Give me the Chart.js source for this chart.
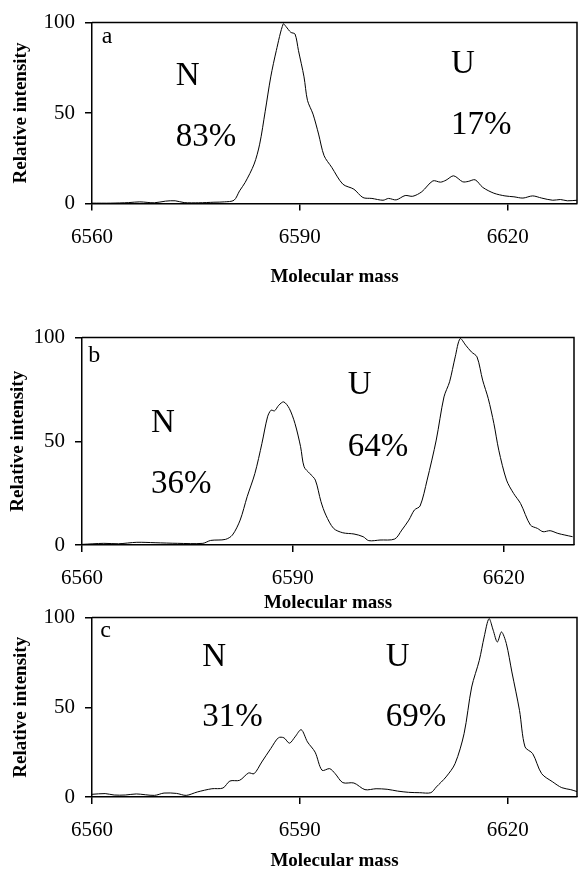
<!DOCTYPE html>
<html>
<head>
<meta charset="utf-8">
<script src="https://cdn.jsdelivr.net/npm/chart.js@4/dist/chart.umd.min.js"></script>
<style>
  html, body { margin: 0; padding: 0; background: #fff; }
  body { width: 578px; height: 872px; position: relative; overflow: hidden; }
  canvas { position: absolute; left: 0; }
</style>
</head>
<body>
<canvas id="chart-a" width="578" height="292" style="top:0px"></canvas>
<canvas id="chart-b" width="578" height="300" style="top:315px"></canvas>
<canvas id="chart-c" width="578" height="277" style="top:595px"></canvas>
<script>
// tick labels
var massTicks = [6560, 6590, 6620];
var intensityTicks = [0, 50, 100];

// panel a
var massA = [6560, 6562.7, 6565.3, 6566.9, 6569, 6570.6, 6572, 6573.3, 6575.4, 6577.6, 6579.1, 6580.5,
  6581.3, 6582.1, 6583.4, 6584.2, 6585, 6585.8, 6586.6, 6587.6, 6588, 6588.7, 6589.3, 6589.8, 6590.6,
  6591.1, 6591.9, 6592.7, 6593.5, 6594.6, 6596.2, 6597.8, 6599.1, 6600.4, 6602, 6602.8, 6603.9, 6605.2,
  6606.3, 6607.6, 6609.2, 6610.3, 6611.1, 6612.2, 6613.5, 6614.3, 6615.3, 6616.4, 6618, 6619.6, 6620.9,
  6622.2, 6623.6, 6624.9, 6626.5, 6627.6, 6628.6, 6630];
var intensityA = [0.2, 0.2, 0.5, 0.9, 0.4, 1.3, 1.5, 0.5, 0.4, 0.7, 0.9, 1.8,
  7, 11.6, 21.8, 32.8, 51, 70, 84.5, 99.3, 97.8, 94.6, 93.7, 84.5, 70,
  57, 49.4, 38.4, 26.4, 20, 10.7, 7.9, 3.3, 2.8, 1.8, 2.8, 2, 4.4,
  4, 6.5, 12.5, 11.8, 12.9, 15.3, 12, 12.2, 13.1, 8.9, 5.7, 4.2, 3.7,
  3, 4.2, 3, 1.8, 2.2, 1.5, 1.8];

// panel b
var massB = [6560, 6563.1, 6565.2, 6567.8, 6570.4, 6573.6, 6577.2, 6578.3, 6580.4, 6581.4, 6582.5, 6583.5,
  6584.6, 6585.6, 6586.4, 6586.9, 6587.4, 6588, 6588.7, 6589.5, 6590.3, 6591.1, 6591.6, 6592.4, 6593.2,
  6594, 6594.7, 6595.8, 6597.1, 6598.7, 6600, 6600.8, 6602.4, 6604.5, 6605.5, 6606.5, 6607.3, 6608.1,
  6609.1, 6610.4, 6611.5, 6612.3, 6613.1, 6613.8, 6614.6, 6615.4, 6616.2, 6617, 6617.8, 6618.6, 6619.3,
  6620.4, 6621.4, 6622.4, 6623.8, 6624.8, 6625.6, 6626.6, 6627.7, 6628.7, 6629.8];
var intensityB = [0.3, 0.8, 0.6, 1.3, 1.1, 0.8, 0.8, 2.2, 2.7, 4.8, 12, 23.3,
  34.5, 49, 61.8, 65, 64.7, 67.4, 69, 65.8, 58.6, 47.4, 37.7, 34.5, 31.3,
  20.9, 14.4, 8, 5.9, 5.3, 4, 2.1, 2.4, 2.9, 7.2, 12, 16.9, 18.8,
  31.3, 50.6, 71.4, 78.7, 90.7, 99.5, 96.3, 93.1, 90.7, 79.5, 70.6, 58.6, 45.7,
  31.3, 24.9, 20, 9.6, 8, 6.4, 6.9, 5.6, 4.8, 4];

// panel c
var massC = [6560, 6561.9, 6563.2, 6564.8, 6566.4, 6569, 6570.4, 6572.2, 6573.6, 6575.2, 6577.3, 6578.9,
  6579.9, 6581.3, 6582.6, 6583.4, 6584.5, 6585.8, 6586.9, 6587.7, 6588.5, 6589.3, 6590.2, 6591.1, 6592.2,
  6593.2, 6594.3, 6595.1, 6596.2, 6597.8, 6599.4, 6601, 6602.6, 6604.1, 6605.7, 6607.3, 6608.9, 6609.7,
  6611.1, 6612.4, 6613.7, 6614.8, 6615.9, 6616.6, 6617.3, 6617.9, 6618.5, 6619.1, 6619.8, 6620.6, 6621.7,
  6622.5, 6623.6, 6624.9, 6626.5, 6627.8, 6629.1, 6630];
var intensityC = [1.5, 1.9, 1.1, 1.1, 1.7, 0.9, 2.2, 2, 0.9, 2.8, 4.6, 5,
  8.9, 9.3, 13.4, 13, 19.5, 27, 33, 33, 30, 33.5, 37.5, 30.7, 25,
  14.9, 15.8, 13, 8, 7.8, 4.1, 4.6, 4.3, 3.3, 2.6, 2.4, 2.4, 5.6,
  11.2, 18.6, 35.3, 61.3, 76.2, 89.2, 99.4, 93, 86.4, 92, 85.5, 69.7, 48.3,
  27.9, 24.2, 13, 8.4, 5.2, 4.1, 3];

var panelLetters = ['a', 'b', 'c'];
var formLabels = ['N', 'U'];
var shareA = ['83%', '17%'];
var shareB = ['36%', '64%'];
var shareC = ['31%', '69%'];

var serif = '"Liberation Serif", "Times New Roman", serif';

// text drawn inside the plot, placed with the chart's own scales
var textLabels = {
  id: 'textLabels',
  afterDatasetsDraw: function(chart, args, opts) {
    var ctx = chart.ctx;
    var xs = chart.scales.x, ys = chart.scales.y;
    ctx.save();
    ctx.fillStyle = '#000';
    ctx.textBaseline = 'middle';
    ctx.textAlign = 'left';
    opts.items.forEach(function(it) {
      ctx.font = it.size + 'px ' + serif;
      ctx.fillText(it.text, xs.getPixelForValue(it.x), ys.getPixelForValue(it.y));
    });
    ctx.restore();
  }
};

// closes the plot box on top and right
var frame = {
  id: 'frame',
  afterDraw: function(chart) {
    var a = chart.chartArea, ctx = chart.ctx;
    ctx.save();
    ctx.strokeStyle = '#000';
    ctx.lineWidth = 1.5;
    ctx.beginPath();
    ctx.moveTo(a.left, a.top);
    ctx.lineTo(a.right, a.top);
    ctx.lineTo(a.right, a.bottom);
    ctx.stroke();
    ctx.restore();
  }
};

function plainNumber(v) { return String(v); }

function makePanel(id, mass, intensity, p, items) {
  var points = mass.map(function(m, i) { return {x: m, y: intensity[i]}; });
  return new Chart(document.getElementById(id), {
    type: 'line',
    data: {
      datasets: [{
        data: points,
        borderColor: '#000',
        borderWidth: 1,
        pointRadius: 0,
        tension: 0.3,
        fill: false
      }]
    },
    options: {
      responsive: false,
      animation: false,
      devicePixelRatio: 1,
      layout: { padding: { left: 0, right: p.right, top: p.top, bottom: 0 } },
      plugins: {
        legend: { display: false },
        tooltip: { enabled: false },
        textLabels: { items: items }
      },
      scales: {
        x: {
          type: 'linear',
          min: 6560,
          max: 6630,
          afterBuildTicks: function(s) { s.ticks = massTicks.map(function(v) { return {value: v}; }); },
          afterFit: function(s) { s.height = p.xHeight; },
          grid: { drawOnChartArea: false, drawTicks: true, tickLength: 7, color: '#000', lineWidth: 1.5 },
          border: { display: true, color: '#000', width: 1.5 },
          ticks: { color: '#000', font: { family: serif, size: 21 }, padding: 14, maxRotation: 0, callback: plainNumber },
          title: {
            display: true,
            text: 'Molecular mass',
            color: '#000',
            font: { family: serif, size: 19, weight: 'bold' },
            padding: { top: 0, bottom: p.titleBottom }
          }
        },
        y: {
          min: 0,
          max: 100,
          afterBuildTicks: function(s) { s.ticks = intensityTicks.map(function(v) { return {value: v}; }); },
          afterFit: function(s) { s.width = p.left; },
          grid: { drawOnChartArea: false, drawTicks: true, tickLength: 7, color: '#000', lineWidth: 1.5 },
          border: { display: true, color: '#000', width: 1.5 },
          ticks: { color: '#000', font: { family: serif, size: 21 }, padding: 10, callback: plainNumber },
          title: {
            display: true,
            text: 'Relative intensity',
            color: '#000',
            font: { family: serif, size: 19, weight: 'bold' },
            padding: { top: p.yTitle, bottom: 0 }
          }
        }
      }
    },
    plugins: [textLabels, frame]
  });
}

makePanel('chart-a', massA, intensityA,
  { left: 92, right: 1, top: 22, xHeight: 88.5, titleBottom: 4, yTitle: 10 },
  [
    { text: panelLetters[0], x: 6561.4, y: 92.3, size: 24 },
    { text: formLabels[0], x: 6572.1, y: 70.2, size: 33 },
    { text: shareA[0], x: 6572.1, y: 36.8, size: 33 },
    { text: formLabels[1], x: 6611.8, y: 76.9, size: 33 },
    { text: shareA[1], x: 6611.8, y: 43.3, size: 33 }
  ]);

makePanel('chart-b', massB, intensityB,
  { left: 82, right: 4, top: 22, xHeight: 70, titleBottom: 1, yTitle: 7 },
  [
    { text: panelLetters[1], x: 6560.9, y: 91.5, size: 24 },
    { text: formLabels[0], x: 6569.8, y: 58.7, size: 33 },
    { text: shareB[0], x: 6569.8, y: 29.4, size: 33 },
    { text: formLabels[1], x: 6597.8, y: 77, size: 33 },
    { text: shareB[1], x: 6597.8, y: 47.3, size: 33 }
  ]);

makePanel('chart-c', massC, intensityC,
  { left: 92, right: 1, top: 22, xHeight: 75, titleBottom: 0, yTitle: 10 },
  [
    { text: panelLetters[2], x: 6561.2, y: 92.8, size: 24 },
    { text: formLabels[0], x: 6575.9, y: 77.9, size: 33 },
    { text: shareC[0], x: 6575.9, y: 44.6, size: 33 },
    { text: formLabels[1], x: 6602.4, y: 77.9, size: 33 },
    { text: shareC[1], x: 6602.4, y: 44.6, size: 33 }
  ]);
</script>
</body>
</html>
